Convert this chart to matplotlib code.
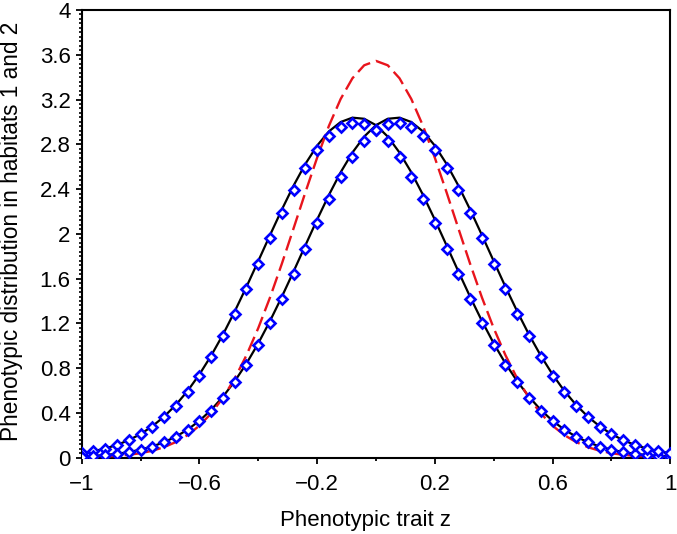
import matplotlib
matplotlib.use("Agg")
import matplotlib.pyplot as plt
from matplotlib.ticker import MultipleLocator, FixedLocator, FuncFormatter

# Phenotypic trait grid (z)
z = [round(-1 + 0.04 * i, 2) for i in range(51)]

# Solid black curve, habitat 2 (peak right of zero)
black_right = [0.010, 0.016, 0.024, 0.035, 0.050, 0.072, 0.100, 0.139, 0.188, 0.251,
               0.330, 0.427, 0.545, 0.683, 0.842, 1.022, 1.222, 1.437, 1.664, 1.896,
               2.127, 2.347, 2.550, 2.726, 2.869, 2.971, 3.028, 3.038, 2.999, 2.915,
               2.788, 2.624, 2.431, 2.216, 1.989, 1.757, 1.527, 1.307, 1.100, 0.912,
               0.744, 0.597, 0.472, 0.367, 0.281, 0.211, 0.157, 0.114, 0.082, 0.058,
               0.040]
# Solid black curve, habitat 1 (peak left of zero)
black_left = [0.040, 0.058, 0.082, 0.114, 0.157, 0.211, 0.281, 0.367, 0.472, 0.597,
              0.744, 0.912, 1.100, 1.307, 1.527, 1.757, 1.989, 2.216, 2.431, 2.624,
              2.788, 2.915, 2.999, 3.038, 3.028, 2.971, 2.869, 2.726, 2.550, 2.347,
              2.127, 1.896, 1.664, 1.437, 1.222, 1.022, 0.842, 0.683, 0.545, 0.427,
              0.330, 0.251, 0.188, 0.139, 0.100, 0.072, 0.050, 0.035, 0.024, 0.016,
              0.010]
# Blue diamond markers (simulation), habitat 2
sim_right = [0.010, 0.016, 0.024, 0.034, 0.049, 0.071, 0.099, 0.137, 0.185, 0.247,
             0.325, 0.421, 0.537, 0.673, 0.829, 1.007, 1.204, 1.415, 1.639, 1.868,
             2.095, 2.312, 2.512, 2.685, 2.826, 2.926, 2.983, 2.992, 2.954, 2.871,
             2.746, 2.585, 2.395, 2.183, 1.959, 1.731, 1.504, 1.287, 1.084, 0.898,
             0.733, 0.588, 0.465, 0.361, 0.277, 0.208, 0.155, 0.112, 0.081, 0.057,
             0.040]
# Blue diamond markers (simulation), habitat 1
sim_left = [0.040, 0.057, 0.081, 0.112, 0.155, 0.208, 0.277, 0.361, 0.465, 0.588,
            0.733, 0.898, 1.084, 1.287, 1.504, 1.731, 1.959, 2.183, 2.395, 2.585,
            2.746, 2.871, 2.954, 2.992, 2.983, 2.926, 2.826, 2.685, 2.512, 2.312,
            2.095, 1.868, 1.639, 1.415, 1.204, 1.007, 0.829, 0.673, 0.537, 0.421,
            0.325, 0.247, 0.185, 0.137, 0.099, 0.071, 0.049, 0.034, 0.024, 0.016,
            0.010]
# Red dashed curve (centred at zero)
red = [0.003, 0.006, 0.010, 0.016, 0.026, 0.040, 0.062, 0.094, 0.140, 0.202,
       0.286, 0.396, 0.535, 0.708, 0.916, 1.158, 1.432, 1.732, 2.049, 2.370,
       2.680, 2.964, 3.205, 3.390, 3.506, 3.545, 3.506, 3.390, 3.205, 2.964,
       2.680, 2.370, 2.049, 1.732, 1.432, 1.158, 0.916, 0.708, 0.535, 0.396,
       0.286, 0.202, 0.140, 0.094, 0.062, 0.040, 0.026, 0.016, 0.010, 0.006,
       0.003]

x_ticks = [-1, -0.6, -0.2, 0.2, 0.6, 1]
x_minor = [-0.8, -0.4, 0, 0.4, 0.8]

plt.rcParams['font.family'] = ['Liberation Sans', 'DejaVu Sans']

fig = plt.figure(figsize=(6.77, 5.34), dpi=100)
ax = fig.add_axes([0.1207, 0.1429, 0.8693, 0.8384])

ax.plot(z, black_left, color='black', lw=1.6, zorder=2)
ax.plot(z, black_right, color='black', lw=1.6, zorder=2)
ax.plot(z, red, color='#e8141c', lw=1.7, ls=(0, (6.5, 2.6)), zorder=3)
for s in (sim_left, sim_right):
    ax.plot(z, s, ls='none', marker='D', ms=5.0, mfc='white', mec='#0000ff',
            mew=1.9, zorder=4)

ax.set_xlim(-1, 1)
ax.set_ylim(0, 4)
ax.xaxis.set_major_locator(FixedLocator(x_ticks))
ax.xaxis.set_minor_locator(FixedLocator(x_minor))
ax.yaxis.set_major_locator(MultipleLocator(0.4))
ax.yaxis.set_minor_locator(MultipleLocator(0.04))

def fmt(v, pos):
    s = f"{v:.1f}".rstrip('0').rstrip('.')
    if s in ('-0', '0'):
        s = '0'
    return s.replace('-', '\u2212')

ax.xaxis.set_major_formatter(FuncFormatter(fmt))
ax.yaxis.set_major_formatter(FuncFormatter(fmt))

ax.tick_params(which='major', direction='out', length=4, width=1.3,
               labelsize=16)
ax.tick_params(axis='y', which='major', pad=4)
ax.tick_params(axis='x', which='major', pad=8)
ax.tick_params(which='minor', direction='out', length=2.3, width=1.2)
ax.tick_params(axis='x', which='minor', length=2.5, width=1.3)
ax.tick_params(top=False, right=False)
for sp in ax.spines.values():
    sp.set_linewidth(1.5)

ax.set_xlabel('Phenotypic trait z', fontsize=16)
ax.set_ylabel('Phenotypic distribution in habitats 1 and 2', fontsize=16.3)
ax.xaxis.set_label_coords(0.483, -0.117)
ax.yaxis.set_label_coords(-0.099, 0.505)

fig.savefig('out.png', dpi=100)
